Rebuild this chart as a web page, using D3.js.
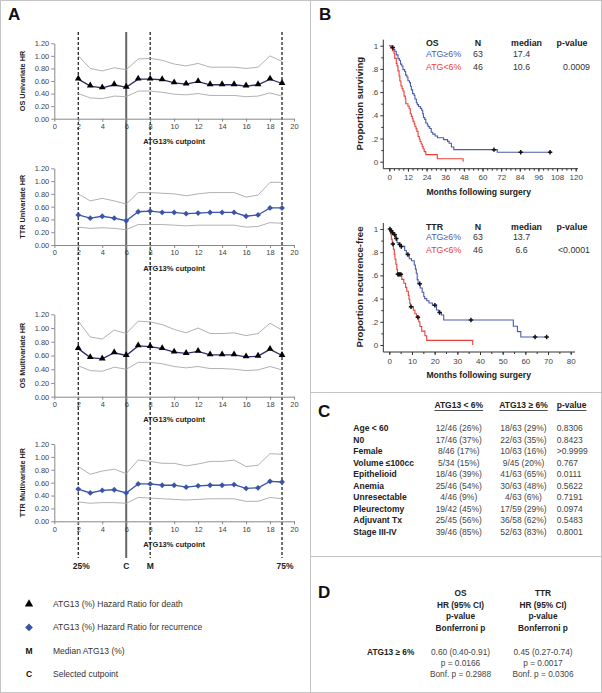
<!DOCTYPE html>
<html><head><meta charset="utf-8">
<script src="https://cdn.jsdelivr.net/npm/d3@7"></script>
<style>body{margin:0;background:#fff}svg{display:block;font-family:"Liberation Sans",Arial,sans-serif}</style>
</head><body><svg id="c" width="602" height="693"></svg>
<script>
// ---------- DATA ----------
const cutpoints = [2,3,4,5,6,7,8,9,10,11,12,13,14,15,16,17,18,19];
const osUniHR = [0.63,0.52,0.49,0.54,0.50,0.63,0.63,0.62,0.57,0.55,0.59,0.54,0.54,0.54,0.52,0.54,0.63,0.56];
const osUniHi = [1.00,0.80,0.76,0.81,0.78,0.95,0.96,0.93,0.87,0.84,0.88,0.82,0.82,0.82,0.80,0.82,1.00,0.91];
const osUniLo = [0.40,0.33,0.32,0.36,0.35,0.44,0.44,0.42,0.39,0.38,0.40,0.37,0.37,0.37,0.35,0.36,0.41,0.36];
const ttrUniHR = [0.47,0.42,0.45,0.42,0.38,0.52,0.53,0.51,0.51,0.49,0.50,0.51,0.51,0.51,0.45,0.47,0.58,0.58];
const ttrUniHi = [0.80,0.69,0.73,0.69,0.64,0.82,0.82,0.81,0.80,0.77,0.80,0.82,0.82,0.82,0.75,0.78,0.98,0.98];
const ttrUniLo = [0.28,0.26,0.27,0.26,0.24,0.32,0.32,0.32,0.31,0.30,0.31,0.31,0.31,0.31,0.28,0.29,0.35,0.34];
const osMvHR = [0.70,0.57,0.55,0.64,0.60,0.74,0.73,0.70,0.65,0.63,0.66,0.61,0.61,0.61,0.58,0.59,0.69,0.60];
const osMvHi = [1.10,0.87,0.84,0.97,0.92,1.10,1.09,1.05,0.98,0.93,1.00,0.92,0.92,0.93,0.89,0.92,1.07,0.97];
const osMvLo = [0.45,0.38,0.37,0.43,0.40,0.50,0.50,0.48,0.44,0.42,0.44,0.41,0.41,0.40,0.38,0.39,0.44,0.39];
const ttrMvHR = [0.50,0.44,0.48,0.49,0.44,0.58,0.58,0.56,0.56,0.53,0.55,0.56,0.56,0.57,0.51,0.52,0.62,0.61];
const ttrMvHi = [0.85,0.73,0.78,0.81,0.74,0.95,0.93,0.90,0.90,0.86,0.89,0.93,0.93,0.95,0.85,0.87,1.05,1.04];
const ttrMvLo = [0.30,0.28,0.29,0.29,0.28,0.37,0.36,0.35,0.34,0.33,0.34,0.35,0.35,0.35,0.31,0.31,0.37,0.35];
const hrTicks = [0,0.2,0.4,0.6,0.8,1.0,1.2];
const cutTicks = [0,2,4,6,8,10,12,14,16,18,20];
const markerLines = [{v:2,label:"25%",dash:true},{v:6,label:"C",dash:false},{v:8,label:"M",dash:true},{v:19,label:"75%",dash:true}];

// KM: OS
const osHighT = [0,1.5,2.4,3.5,4.5,5.6,6.5,7.2,8.0,8.8,9.9,10.5,11.3,12.0,13.0,13.6,14.2,15.0,16.0,16.5,17.4,18.0,18.8,20.0,20.8,21.5,22.0,22.8,23.5,24.5,25.0,26.0,27.0,28.0,29.5,31.0,35.0,37.5,38.5,40.0,41.5,69.5,104.6];
const osHighS = [1,0.984,0.968,0.952,0.921,0.889,0.873,0.841,0.825,0.794,0.778,0.746,0.730,0.698,0.682,0.651,0.619,0.587,0.571,0.540,0.508,0.492,0.476,0.460,0.444,0.413,0.381,0.365,0.333,0.317,0.302,0.286,0.254,0.238,0.222,0.206,0.190,0.175,0.159,0.127,0.104,0.081,0.081];
const osHighCens = [2.2,67.4,84.6,103.5];
const osLowT = [0,1.0,2.0,3.0,3.5,4.5,5.0,5.6,6.3,6.8,7.5,8.2,8.8,9.5,10.3,10.6,12.0,12.8,13.5,14.2,14.8,15.3,16.0,16.5,17.2,17.8,18.5,19.3,19.8,20.5,21.2,21.8,22.5,23.5,30.9,47.5,47.5];
const osLowS = [1,0.978,0.957,0.935,0.891,0.848,0.826,0.783,0.739,0.696,0.652,0.630,0.609,0.565,0.543,0.500,0.478,0.457,0.413,0.391,0.370,0.348,0.326,0.304,0.283,0.261,0.217,0.196,0.174,0.152,0.130,0.109,0.087,0.061,0.026,0.026,0];
const osLowCens = [];
// KM: TTR
const ttrHighT = [0,0.5,1.2,1.8,2.6,3.4,4.0,5.2,6.8,7.5,8.8,9.8,11.0,11.5,11.9,12.3,12.7,13.6,14.5,15.2,15.6,16.5,17.5,19.0,20.8,21.8,23.0,24.0,54.7,56.5,58.0,69.4];
const ttrHighS = [1,0.984,0.968,0.951,0.918,0.884,0.867,0.850,0.815,0.780,0.744,0.726,0.690,0.654,0.618,0.564,0.528,0.491,0.455,0.418,0.400,0.381,0.362,0.343,0.302,0.280,0.258,0.215,0.161,0.115,0.069,0.069];
const ttrHighCens = [0.3,0.8,1.5,2.4,3.1,4.6,5.3,8.2,13.4,20.1,22.2,36.0,64.3,69.4];
const ttrLowT = [0,0.5,0.9,1.3,1.8,2.2,2.5,2.9,3.3,3.6,5.5,6.4,7.2,7.7,8.4,8.7,9.0,9.3,10.6,11.3,12.0,13.0,13.5,14.3,15.7,16.5,36.8,36.8];
const ttrLowS = [1,0.957,0.913,0.870,0.826,0.783,0.739,0.696,0.652,0.609,0.566,0.532,0.497,0.463,0.428,0.394,0.360,0.330,0.300,0.270,0.240,0.200,0.160,0.120,0.080,0.040,0.040,0];
const ttrLowCens = [1.6,3.8,4.1,4.6,5.1,9.6,12.6];

const kmGroups = ["ATG\u22656%","ATG<6%"];
const kmN = [63,46];
const osMedian = ["17.4","10.6"], ttrMedian = ["13.7","6.6"];
const osP = "0.0009", ttrP = "<0.0001";

// Panel C
const charLabels = ["Age < 60","N0","Female","Volume \u2264100cc","Epithelioid","Anemia","Unresectable","Pleurectomy","Adjuvant Tx","Stage III-IV"];
const charLow = ["12/46 (26%)","17/46 (37%)","8/46 (17%)","5/34 (15%)","18/46 (39%)","25/46 (54%)","4/46 (9%)","19/42 (45%)","25/45 (56%)","39/46 (85%)"];
const charHigh = ["18/63 (29%)","22/63 (35%)","10/63 (16%)","9/45 (20%)","41/63 (65%)","30/63 (48%)","4/63 (6%)","17/59 (29%)","36/58 (62%)","52/63 (83%)"];
const charP = ["0.8306","0.8423",">0.9999","0.767","0.0111","0.5622","0.7191","0.0974","0.5483","0.8001"];
const charHeaders = ["ATG13 < 6%","ATG13 \u2265 6%","p-value"];

// Panel D
const dHeaderOS = ["OS","HR (95% CI)","p-value","Bonferroni p"];
const dHeaderTTR = ["TTR","HR (95% CI)","p-value","Bonferroni p"];
const dRowLabel = "ATG13 \u2265 6%";
const dOS = ["0.60 (0.40-0.91)","p = 0.0166","Bonf. p = 0.2988"];
const dTTR = ["0.45 (0.27-0.74)","p = 0.0017","Bonf. p = 0.0306"];

// Legend A
const legendA = [{sym:"tri",text:"ATG13 (%) Hazard Ratio for death"},{sym:"dia",text:"ATG13 (%) Hazard Ratio for recurrence"},{sym:"M",text:"Median ATG13 (%)"},{sym:"C",text:"Selected cutpoint"}];

// ---------- DRAW ----------
const svg = d3.select("#c");
svg.append("rect").attr("width",602).attr("height",693).attr("fill","#fff");
const border = "#c4c4c4";
svg.append("rect").attr("x",0.5).attr("y",0.5).attr("width",601).attr("height",692).attr("fill","none").attr("stroke",border);
svg.append("line").attr("x1",310.5).attr("x2",310.5).attr("y1",0).attr("y2",693).attr("stroke",border);
svg.append("line").attr("x1",310).attr("x2",602).attr("y1",392.5).attr("y2",392.5).attr("stroke",border);
svg.append("line").attr("x1",310).attr("x2",602).attr("y1",556.5).attr("y2",556.5).attr("stroke",border);

function panelLabel(t,x,y){svg.append("text").attr("x",x).attr("y",y).attr("font-size",17).attr("font-weight","bold").attr("fill","#111").attr("dominant-baseline","central").text(t);}
panelLabel("A",8,14); panelLabel("B",319,14); panelLabel("C",318,411); panelLabel("D",318,592);

// Panel A
const xA = d3.scaleLinear().domain([0,20]).range([54.3,294]);
const charts = [
  {hr:osUniHR,lo:osUniLo,hi:osUniHi,label:"OS Univariate HR",sym:"tri",y0:118.7,y1:43.3},
  {hr:ttrUniHR,lo:ttrUniLo,hi:ttrUniHi,label:"TTR Univariate HR",sym:"dia",y0:245,y1:168.3},
  {hr:osMvHR,lo:osMvLo,hi:osMvHi,label:"OS Multivariate HR",sym:"tri",y0:396.7,y1:314.3},
  {hr:ttrMvHR,lo:ttrMvLo,hi:ttrMvHi,label:"TTR Multivariate HR",sym:"dia",y0:521.3,y1:444}
];
const triSym = d3.symbol().type(d3.symbolTriangle);
const sqSym = d3.symbol().type(d3.symbolSquare);
const gA = svg.append("g");
markerLines.forEach(m=>{
  gA.append("line").attr("x1",xA(m.v)).attr("x2",xA(m.v)).attr("y1",32).attr("y2",558)
    .attr("stroke",m.dash?"#111":"#666").attr("stroke-width",m.dash?1.2:2).attr("stroke-dasharray",m.dash?"3,2":null);
  gA.append("text").attr("x",xA(m.v)+(m.label.length>1?3:0)).attr("y",566).attr("text-anchor","middle").attr("dominant-baseline","central")
    .attr("font-size",8.5).attr("font-weight","bold").attr("fill","#222").text(m.label);
});
charts.forEach(c=>{
  const y = d3.scaleLinear().domain([0,1.2]).range([c.y0,c.y1]);
  const g = gA.append("g");
  const ya = g.append("g").attr("transform",`translate(${xA(0)},0)`)
    .call(d3.axisLeft(y).tickValues(hrTicks).tickFormat(d3.format(".2f")).tickSize(3).tickSizeOuter(0).tickPadding(2));
  const xa = g.append("g").attr("transform",`translate(0,${y(0)})`)
    .call(d3.axisBottom(xA).tickValues(cutTicks).tickSize(3).tickSizeOuter(0).tickPadding(2));
  [ya,xa].forEach(a=>{a.selectAll("path,line").attr("stroke","#888");a.selectAll("text").attr("font-size",7.5).attr("fill","#444").attr("font-family","Liberation Sans, Arial, sans-serif");});
  g.append("text").attr("transform",`translate(22,${(c.y0+c.y1)/2}) rotate(-90)`).attr("text-anchor","middle").attr("dominant-baseline","central")
    .attr("font-size",7.3).attr("font-weight","bold").attr("fill","#222").text(c.label);
  g.append("text").attr("x",(xA(0)+xA(20))/2).attr("y",y(0)+23).attr("text-anchor","middle").attr("dominant-baseline","central")
    .attr("font-size",7.5).attr("font-weight","bold").attr("fill","#222").text("ATG13% cutpoint");
  const line = d3.line().x((d,i)=>xA(cutpoints[i])).y(d=>y(d));
  g.append("path").attr("d",line(c.hi)).attr("fill","none").attr("stroke","#a8a8a8").attr("stroke-width",0.9);
  g.append("path").attr("d",line(c.lo)).attr("fill","none").attr("stroke","#a8a8a8").attr("stroke-width",0.9);
  const col = c.sym==="tri"?"#2d2d70":"#3a55a8";
  g.append("path").attr("d",line(c.hr)).attr("fill","none").attr("stroke",col).attr("stroke-width",1.3);
  g.selectAll(".m").data(c.hr).join("path")
    .attr("transform",(d,i)=>`translate(${xA(cutpoints[i])},${y(d)+(c.sym==="tri"?-0.5:0)})`+(c.sym==="tri"?"":" rotate(45)"))
    .attr("d",c.sym==="tri"?triSym.size(20)():sqSym.size(17)())
    .attr("fill",c.sym==="tri"?"#000":"#3a55a8");
});
legendA.forEach((l,i)=>{
  const yy = 604 + i*23.4;
  if(l.sym==="tri") svg.append("path").attr("transform",`translate(29,${yy})`).attr("d",triSym.size(30)()).attr("fill","#000");
  else if(l.sym==="dia") svg.append("path").attr("transform",`translate(29,${yy}) rotate(45)`).attr("d",sqSym.size(30)()).attr("fill","#3a55a8");
  else svg.append("text").attr("x",29).attr("y",yy).attr("text-anchor","middle").attr("dominant-baseline","central").attr("font-size",8.5).attr("font-weight","bold").attr("fill","#111").text(l.sym);
  svg.append("text").attr("x",53).attr("y",yy).attr("dominant-baseline","central").attr("font-size",8.5).attr("fill","#333").text(l.text);
});

// Panel B
const blue = "#4a5cae", red = "#e8413a";
function km(o){
  const x = d3.scaleLinear().domain([0,o.xmax]).range([389.3,o.xEnd]);
  const yS = d3.scaleLinear().domain([0,1]).range([o.yBase,o.yBase-116]);
  const g = svg.append("g");
  const axX = o.yBase+7;
  g.append("line").attr("x1",383.3).attr("x2",o.axEnd).attr("y1",axX).attr("y2",axX).attr("stroke","#333");
  g.append("line").attr("x1",383.3).attr("x2",383.3).attr("y1",o.yBase-122).attr("y2",axX).attr("stroke","#333");
  const xa = g.append("g").attr("transform",`translate(0,${axX})`)
    .call(d3.axisBottom(x).tickValues(o.xTicks).tickSize(3).tickSizeOuter(0).tickPadding(3));
  g.append("g").attr("transform",`translate(0,${axX})`)
    .call(d3.axisBottom(x).tickValues(o.xMinor).tickSize(2).tickFormat("").tickSizeOuter(0)).select(".domain").remove();
  xa.select(".domain").remove();
  const ya = g.append("g").attr("transform",`translate(383.3,0)`)
    .call(d3.axisLeft(yS).tickValues([0,0.2,0.4,0.6,0.8,1]).tickFormat(d=>d===0?"0":d===1?"1":d3.format(".1f")(d).replace(/^0/,"")).tickSize(3).tickSizeOuter(0).tickPadding(2));
  g.append("g").attr("transform",`translate(383.3,0)`)
    .call(d3.axisLeft(yS).tickValues([0.1,0.3,0.5,0.7,0.9]).tickSize(2).tickFormat("").tickSizeOuter(0)).select(".domain").remove();
  ya.select(".domain").remove();
  g.selectAll(".tick line").attr("stroke","#333");
  g.selectAll(".tick text").attr("font-size",8).attr("fill","#444").attr("font-family","Liberation Sans, Arial, sans-serif");
  g.append("text").attr("transform",`translate(359,${o.yBase-58}) rotate(-90)`).attr("text-anchor","middle").attr("dominant-baseline","central")
    .attr("font-size",9.5).attr("font-weight","bold").attr("fill","#222").text(o.yLabel);
  g.append("text").attr("x",478.7).attr("y",o.yBase+30).attr("text-anchor","middle").attr("dominant-baseline","central")
    .attr("font-size",8.6).attr("font-weight","bold").attr("fill","#222").text("Months following surgery");
  const line = d3.line().x(d=>x(d[0])).y(d=>yS(d[1])).curve(d3.curveStepAfter);
  const step=(T,S,t)=>{let v=S[0];for(let i=0;i<T.length;i++){if(T[i]<=t)v=S[i];}return v;};
  o.curves.forEach(c=>{
    g.append("path").attr("d",line(c.T.map((t,i)=>[t,c.S[i]]))).attr("fill","none").attr("stroke",c.col).attr("stroke-width",1.1);
  });
  o.curves.forEach(c=>{
    c.cens.forEach(t=>{
      g.append("path").attr("transform",`translate(${x(t)},${yS(step(c.T,c.S,t))})`).attr("d",d3.symbol().type(d3.symbolCross).size(11)()).attr("fill","#111");
    });
  });
  const L = o.legend;
  const ty = [o.yBase-118.4, o.yBase-107.7, o.yBase-95];
  const t=(s,x,yy,anchor,bold,col)=>g.append("text").attr("x",x).attr("y",yy).attr("text-anchor",anchor).attr("dominant-baseline","central").attr("font-size",8.8).attr("font-weight",bold?"bold":"normal").attr("fill",col).text(s);
  t(L.title,426,ty[0],"start",true,"#222");
  t("N",478,ty[0],"middle",true,"#222");
  t("median",526.5,ty[0],"middle",true,"#222");
  t("p-value",572,ty[0],"middle",true,"#222");
  [0,1].forEach(i=>{
    t(kmGroups[i],426,ty[i+1],"start",false,i===0?blue:red);
    t(String(kmN[i]),478,ty[i+1],"middle",false,"#333");
    t(L.median[i],521.5,ty[i+1],"middle",false,"#333");
  });
  t(L.p,590,ty[2],"end",false,"#333");
}
km({xmax:120,xEnd:575.7,axEnd:578,yBase:161.7,xTicks:d3.range(0,121,12),xMinor:d3.range(0,121,3),yLabel:"Proportion surviving",
   curves:[{T:osHighT,S:osHighS,cens:osHighCens,col:blue},{T:osLowT,S:osLowS,cens:osLowCens,col:red}],
   legend:{title:"OS",median:osMedian,p:osP}});
km({xmax:80,xEnd:570.7,axEnd:575,yBase:345,xTicks:d3.range(0,81,10),xMinor:d3.range(0,81,5),yLabel:"Proportion recurrence-free",
   curves:[{T:ttrHighT,S:ttrHighS,cens:ttrHighCens,col:blue},{T:ttrLowT,S:ttrLowS,cens:ttrLowCens,col:red}],
   legend:{title:"TTR",median:ttrMedian,p:ttrP}});

// Panel C
const colX = [458.8,523.5];
const hdrY = 405;
charHeaders.forEach((h,i)=>{
  const x = i<2?colX[i]:556.7;
  const tx = svg.append("text").attr("x",x).attr("y",hdrY).attr("text-anchor",i<2?"middle":"start").attr("dominant-baseline","central")
    .attr("font-size",8.5).attr("font-weight","bold").attr("fill","#222").text(h);
  const w = tx.node().getComputedTextLength();
  const x0 = i<2?x-w/2:x;
  svg.append("line").attr("x1",x0).attr("x2",x0+w).attr("y1",hdrY+5.5).attr("y2",hdrY+5.5).attr("stroke","#222").attr("stroke-width",0.8);
});
charLabels.forEach((l,i)=>{
  const yy = 428.3 + i*11.5;
  svg.append("text").attr("x",353.3).attr("y",yy).attr("dominant-baseline","central").attr("font-size",8.5).attr("font-weight","bold").attr("fill","#222").text(l);
  svg.append("text").attr("x",colX[0]).attr("y",yy).attr("text-anchor","middle").attr("dominant-baseline","central").attr("font-size",8.5).attr("fill","#444").text(charLow[i]);
  svg.append("text").attr("x",colX[1]).attr("y",yy).attr("text-anchor","middle").attr("dominant-baseline","central").attr("font-size",8.5).attr("fill","#444").text(charHigh[i]);
  svg.append("text").attr("x",556.7).attr("y",yy).attr("dominant-baseline","central").attr("font-size",8.5).attr("fill","#444").text(charP[i]);
});

// Panel D
const dHY = [593.3,605,616.3,627.7];
[[dHeaderOS,460.5],[dHeaderTTR,543]].forEach(([arr,x])=>{
  arr.forEach((s,i)=>svg.append("text").attr("x",x).attr("y",dHY[i]).attr("text-anchor","middle").attr("dominant-baseline","central")
    .attr("font-size",8.3).attr("font-weight","bold").attr("fill","#222").text(s));
});
const dRY = [651.7,662.7,673.5];
svg.append("text").attr("x",367).attr("y",dRY[0]).attr("dominant-baseline","central").attr("font-size",8.3).attr("font-weight","bold").attr("fill","#222").text(dRowLabel);
[[dOS,460.5],[dTTR,543]].forEach(([arr,x])=>{
  arr.forEach((s,i)=>svg.append("text").attr("x",x).attr("y",dRY[i]).attr("text-anchor","middle").attr("dominant-baseline","central")
    .attr("font-size",8.3).attr("fill","#444").text(s));
});
</script></body></html>
